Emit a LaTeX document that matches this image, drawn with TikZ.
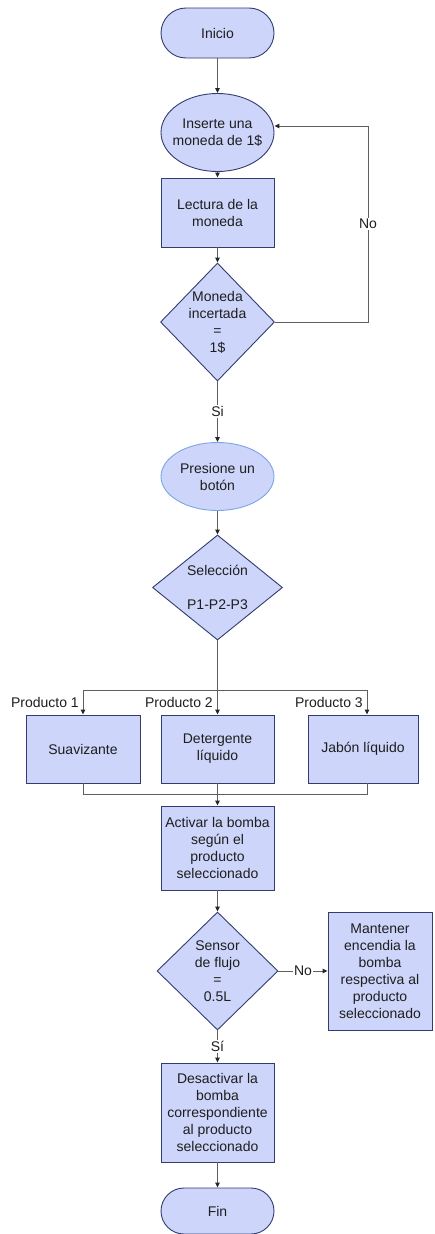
\documentclass[tikz,border=0pt]{standalone}
\usepackage{fontspec}
\setmainfont{Liberation Sans}
\usetikzlibrary{shapes.geometric,arrows.meta}
\definecolor{boxfill}{RGB}{205,213,250}
\definecolor{boxline}{RGB}{50,60,110}
\definecolor{lightline}{RGB}{125,165,230}
\definecolor{conn}{RGB}{95,95,95}
\definecolor{txt}{RGB}{30,30,30}
\begin{document}
\begin{tikzpicture}[x=1pt,y=-1pt,
  base/.style={draw=boxline, fill=boxfill, line width=0.9pt, text=txt, align=center, inner sep=0pt, font=\fontsize{14}{17}\selectfont},
  term/.style={base, rectangle, rounded corners=25pt, minimum width=113pt, minimum height=50pt},
  ell/.style={base, ellipse, minimum width=113pt, minimum height=78pt},
  proc/.style={base, rectangle},
  dec/.style={base, diamond},
  tx/.style={align=center, inner sep=0pt, text=txt, font=\fontsize{14}{17}\selectfont},
  arr/.style={draw=conn, line width=1pt, -{Triangle[length=5pt,width=4.5pt,color=black!85]}},
  ln/.style={draw=conn, line width=1pt},
  lbl/.style={fill=white, inner sep=1.5pt, text=txt, font=\fontsize{14}{17}\selectfont}]
\useasboundingbox (0,0) rectangle (434,1234);

% shapes
\node[term] (ini) at (217.5,33) {Inicio};
\node[ell] (ins) at (217.5,132.5) {};
\node[tx] (inst) at (ins) {Inserte una\\moneda de 1\$};
\node[proc, minimum width=113pt, minimum height=69pt] (lec) at (217.5,212.5) {Lectura de la\\moneda};
\node[dec, minimum width=114pt, minimum height=118pt] (d1) at (217.5,322) {};
\node[tx] (d1t) at (d1) {Moneda\\incertada\\=\\1\$};
\node[ell, draw=lightline, minimum height=68pt] (pre) at (217.5,476.5) {};
\node[tx] (pret) at (pre) {Presione un\\botón};
\node[dec, minimum width=130pt, minimum height=105pt] (d2) at (217.5,587.5) {};
\node[tx] (d2t) at (d2) {Selección\\[17pt]P1-P2-P3};
\node[proc, minimum width=114pt, minimum height=68pt] (p1) at (83,749) {Suavizante};
\node[proc, minimum width=113pt, minimum height=68pt] (p2) at (217.5,749) {Detergente\\líquido};
\node[proc, minimum width=110pt, minimum height=68pt] (p3) at (363,749) {Jabón líquido};
\node[proc, minimum width=113pt, minimum height=84pt] (act) at (217.5,848) {Activar la bomba\\según el\\producto\\seleccionado};
\node[dec, minimum width=121pt, minimum height=118pt] (d3) at (217.5,971) {};
\node[tx] (d3t) at (d3) {Sensor\\de flujo\\=\\0.5L};
\node[proc, minimum width=104pt, minimum height=118pt] (man) at (380,971) {Mantener\\encendia la\\bomba\\respectiva al\\producto\\seleccionado};
\node[proc, minimum width=113pt, minimum height=99pt] (des) at (217.5,1112.5) {Desactivar la\\bomba\\correspondiente\\al producto\\seleccionado};
\node[term, minimum height=46pt, rounded corners=23pt] (fin) at (217.5,1211) {Fin};

% connectors
\draw[arr] (ini) -- (ins);
\draw[arr] (ins) -- (lec);
\draw[arr] (lec) -- (d1);
\coordinate (lp) at (368,126);
\draw[arr] (d1.east) -| node[lbl, pos=0.75] (no1) {No} (lp) -- (ins.east |- lp);
\draw[arr] (d1) -- node[lbl] (si1) {Si} (pre);
\draw[arr] (pre) -- (d2);

\coordinate (sp) at (217.5,690);
\draw[ln] (d2.south) -- (sp);
\draw[arr] (sp) -- (p2);
\draw[arr] (sp) -| (p1);
\draw[arr] (sp) -| ([xshift=4pt]p3.north);
\node[tx, anchor=east] (l1) at (79,702) {Producto 1};
\node[tx, anchor=east] (l2) at (213,702) {Producto 2};
\node[tx, anchor=east] (l3) at (363,702) {Producto 3};

\coordinate (mg) at (217.5,794);
\draw[ln] (p1.south) |- (mg);
\draw[ln] ([xshift=4pt]p3.south) |- (mg);
\draw[arr] (p2) -- (act);
\draw[arr] (act) -- (d3);
\draw[arr] (d3) -- node[lbl] (no2) {No} (man);
\draw[arr] (d3) -- node[lbl] (si2) {Sí} (des);
\draw[arr] (des) -- (fin);
\end{tikzpicture}
\end{document}
